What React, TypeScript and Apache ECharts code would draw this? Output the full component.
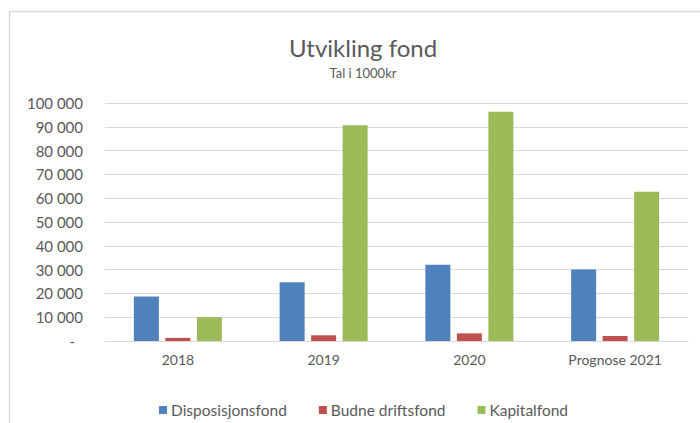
import React, { useEffect, useRef } from "react";
import * as echarts from "echarts";

const categories = ["2018", "2019", "2020", "Prognose 2021"];
const disposisjonsfond = [18700, 24700, 32000, 30000];
const budneDriftsfond = [1300, 2400, 3200, 2100];
const kapitalfond = [10000, 90600, 96300, 62700];
const seriesNames = ["Disposisjonsfond", "Budne driftsfond", "Kapitalfond"];
const colors = ["#4F81BD", "#C0504D", "#9BBB59"];

const FONT = "Lato, 'Open Sans', sans-serif";
const TXT = "#595959";

function fmt(v: number): string {
  if (v === 0) return "{d|-}";
  return String(v).replace(/\B(?=(\d{3})+(?!\d))/g, " ");
}

export default function App() {
  const ref = useRef<HTMLDivElement>(null);
  useEffect(() => {
    if (!ref.current) return;
    const chart = echarts.init(ref.current, undefined, { renderer: "svg" });
    const mk = (name: string, data: number[], color: string) => ({
      name,
      type: "bar",
      data,
      barWidth: 25,
      barGap: "26%",
      itemStyle: { color },
    });
    chart.setOption({
      animation: false,
      backgroundColor: "#ffffff",
      textStyle: { fontFamily: FONT },
      graphic: [
        {
          type: "rect",
          shape: { x: 9.5, y: 11.5, width: 720, height: 440 },
          style: { fill: "none", stroke: "#D9D9D9", lineWidth: 1.5 },
          silent: true,
        },
      ],
      title: [
        {
          text: "Utvikling fond",
          left: 358,
          top: 30,
          textAlign: "center",
          textStyle: { fontFamily: FONT, fontSize: 24, fontWeight: "normal", color: TXT },
        },
        {
          text: "Tal i 1000kr",
          left: 358,
          top: 61,
          textAlign: "center",
          textStyle: { fontFamily: FONT, fontSize: 13, fontWeight: "normal", color: TXT },
        },
      ],
      legend: {
        data: seriesNames,
        left: 154,
        top: 397,
        icon: "rect",
        itemWidth: 8,
        itemHeight: 8,
        itemGap: 32,
        textStyle: { fontFamily: FONT, fontSize: 15.5, color: TXT, padding: [0, 0, 0, -1] },
      },
      grid: { left: 105, right: 12, top: 103, bottom: 82, containLabel: false },
      xAxis: {
        type: "category",
        data: categories,
        axisLine: { lineStyle: { color: "#D9D9D9", width: 1 } },
        axisTick: { show: false },
        axisLabel: { fontFamily: FONT, fontSize: 14, color: TXT, margin: 11 },
      },
      yAxis: {
        type: "value",
        min: 0,
        max: 100000,
        interval: 10000,
        axisLine: { show: false },
        axisTick: { show: false },
        splitLine: { lineStyle: { color: "#D9D9D9", width: 1 } },
        axisLabel: {
          fontFamily: FONT,
          fontSize: 15,
          color: TXT,
          margin: 22,
          formatter: fmt,
          rich: { d: { fontFamily: FONT, fontSize: 15, color: TXT, padding: [0, 8, 0, 0] } },
        },
      },
      series: [
        mk(seriesNames[0], disposisjonsfond, colors[0]),
        mk(seriesNames[1], budneDriftsfond, colors[1]),
        mk(seriesNames[2], kapitalfond, colors[2]),
      ],
    });
    return () => chart.dispose();
  }, []);
  return (
    <div
      ref={ref}
      style={{ position: "absolute", left: 0, top: 0, width: 700, height: 423 }}
    />
  );
}
